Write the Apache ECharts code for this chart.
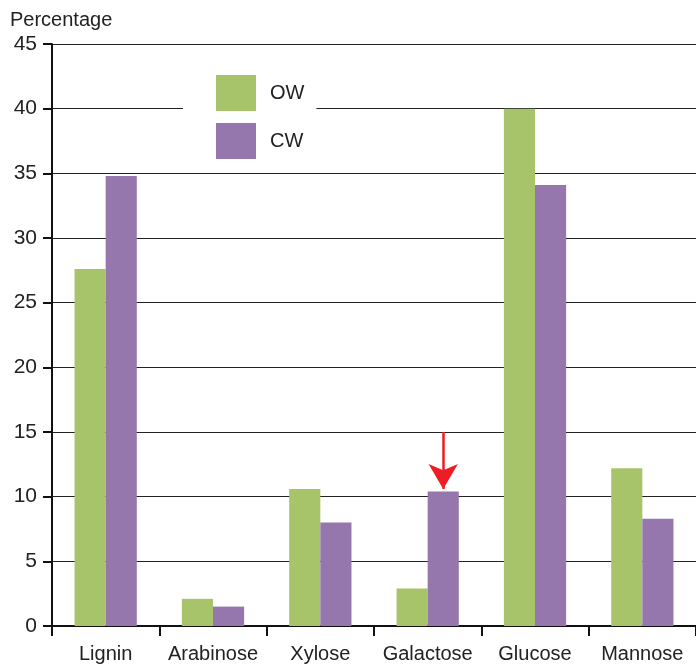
<!DOCTYPE html>
<html>
<head>
<meta charset="utf-8">
<script src="https://cdn.jsdelivr.net/npm/echarts@6/dist/echarts.min.js"></script>
<style>
html,body{margin:0;padding:0;background:#fff;}
#chart{width:696px;height:670px;}
</style>
</head>
<body>
<div id="chart"></div>
<script>
const categories = ['Lignin', 'Arabinose', 'Xylose', 'Galactose', 'Glucose', 'Mannose'];
const owValues = [27.6, 2.1, 10.6, 2.9, 40.0, 12.2];
const cwValues = [34.8, 1.5, 8.0, 10.4, 34.1, 8.3];
const arrowFrom = ['Galactose', 15.0];
const arrowTo = ['Galactose', 10.6];

const FONT = 'Liberation Sans, Arial, Helvetica, sans-serif';
const chart = echarts.init(document.getElementById('chart'), null, {renderer: 'canvas'});
chart.setOption({
  animation: false,
  backgroundColor: '#fff',
  grid: {left: 52, right: 0, top: 44, bottom: 44, containLabel: false},
  legend: {
    show: true,
    orient: 'vertical',
    left: 183,
    top: 65,
    padding: [10, 12, 10, 33],
    backgroundColor: '#fff',
    itemWidth: 40,
    itemHeight: 36,
    itemGap: 12,
    icon: 'rect',
    textStyle: {fontFamily: FONT, fontSize: 20, color: '#222', padding: [0, 0, 0, 9]},
    data: ['OW', 'CW']
  },
  xAxis: {
    type: 'category',
    data: categories,
    axisLine: {show: true, lineStyle: {color: '#111', width: 2}},
    axisTick: {show: true, interval: 0, length: 10, lineStyle: {color: '#111', width: 2}},
    axisLabel: {interval: 0, fontFamily: FONT, fontSize: 20, color: '#222', margin: 18}
  },
  yAxis: {
    type: 'value',
    min: 0,
    max: 45,
    interval: 5,
    name: 'Percentage',
    nameLocation: 'end',
    nameGap: 14,
    nameTextStyle: {fontFamily: FONT, fontSize: 20, color: '#222', align: 'left', padding: [0, 0, 0, -42]},
    axisLine: {show: true, lineStyle: {color: '#111', width: 2}},
    axisTick: {show: true, length: 9, lineStyle: {color: '#111', width: 2}},
    axisLabel: {fontFamily: FONT, fontSize: 21, color: '#222', margin: 15},
    splitLine: {show: true, lineStyle: {color: '#222', width: 1}}
  },
  series: [
    {
      name: 'OW',
      type: 'bar',
      data: owValues,
      barGap: '0%',
      barCategoryGap: '42%',
      itemStyle: {color: '#A8C46B'}
    },
    {
      name: 'CW',
      type: 'bar',
      data: cwValues,
      barGap: '0%',
      barCategoryGap: '42%',
      itemStyle: {color: '#9577AE'},
      markLine: {
        silent: true,
        symbol: ['none', 'arrow'],
        symbolSize: [22, 25],
        label: {show: false},
        lineStyle: {color: '#EE1C25', width: 2.5, type: 'solid'},
        emphasis: {disabled: true},
        data: [[{coord: arrowFrom}, {coord: arrowTo}]]
      }
    }
  ]
});
</script>
</body>
</html>
